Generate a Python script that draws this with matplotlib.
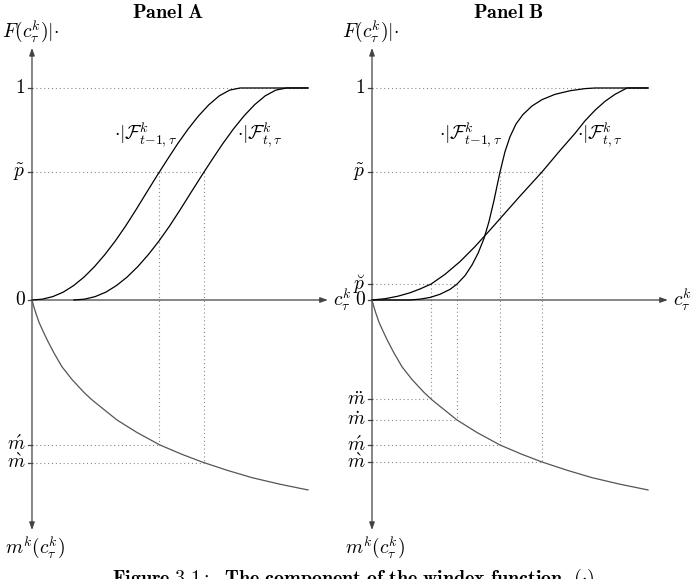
import matplotlib
matplotlib.use('Agg')
import matplotlib.pyplot as plt

plt.rcParams['mathtext.fontset'] = 'cm'

# valores: c en escala 0-100, F y m en la misma unidad
# Panel A
a_prev_c = [0.0, 3.77, 7.54, 11.31, 15.08, 18.85, 22.62, 26.39, 30.16, 33.93, 37.7,
            41.47, 45.24, 49.01, 52.78, 56.55, 60.32, 64.09, 67.86, 71.63, 75.4, 100.0]
a_prev_F = [0.0, 0.004, 0.016, 0.037, 0.068, 0.108, 0.157, 0.214, 0.278, 0.349, 0.426,
            0.506, 0.585, 0.662, 0.737, 0.806, 0.868, 0.921, 0.963, 0.990, 1.0, 1.0]
a_curr_c = [15.2, 19.05, 22.9, 26.75, 30.6, 34.45, 38.3, 42.15, 46.0, 49.85, 53.7,
            57.55, 61.4, 65.25, 69.1, 72.95, 76.8, 80.65, 84.5, 88.35, 92.2, 100.0]
a_curr_F = [0.0, 0.004, 0.016, 0.037, 0.068, 0.108, 0.157, 0.214, 0.278, 0.349, 0.426,
            0.506, 0.585, 0.662, 0.737, 0.806, 0.868, 0.921, 0.963, 0.990, 1.0, 1.0]

# Panel B
b_prev_c = [0.0, 13.77, 17.39, 21.01, 24.64, 28.26, 30.8, 33.7, 36.23, 38.41, 40.58, 42.39,
            44.2, 46.38, 48.19, 50.0, 52.17, 54.71, 57.97, 61.59, 66.3, 71.74, 77.17, 80.8, 100.0]
b_prev_F = [0.0, 0.0, 0.004, 0.012, 0.027, 0.05, 0.075, 0.115, 0.165, 0.22, 0.29, 0.37,
            0.47, 0.604, 0.70, 0.77, 0.83, 0.875, 0.915, 0.945, 0.97, 0.987, 0.997, 1.0, 1.0]
b_curr_c = [0.0, 4.71, 9.42, 13.77, 17.39, 21.38, 26.45, 31.88, 37.32, 42.75, 48.19, 53.62,
            61.59, 68.12, 73.55, 77.17, 80.8, 84.42, 88.04, 92.39, 100.0]
b_curr_F = [0.0, 0.006, 0.018, 0.034, 0.052, 0.075, 0.121, 0.181, 0.252, 0.33, 0.41, 0.49,
            0.604, 0.705, 0.786, 0.845, 0.895, 0.937, 0.97, 1.0, 1.0]

# curva m (igual en los dos paneles)
m_c = [0.0, 0.72, 1.45, 2.54, 3.99, 5.8, 7.97, 10.87, 14.49, 18.84, 21.38, 23.91, 30.8,
       38.04, 46.38, 54.35, 61.59, 70.65, 79.71, 89.86, 100.0]
m_v = [0.0, -0.034, -0.064, -0.105, -0.147, -0.196, -0.25, -0.315, -0.375, -0.436, -0.467,
       -0.494, -0.566, -0.625, -0.684, -0.728, -0.764, -0.803, -0.838, -0.869, -0.896]

# niveles de probabilidad y marcas
p_tilde = 0.604
p_breve = 0.075
a_marks_c = [46.1, 62.3]
a_marks_p = [p_tilde, p_tilde]
a_marks_m = [-0.683, -0.767]
a_marks_lab = [r'$\acute{m}$', r'$\grave{m}$']
b_marks_c = [21.38, 30.8, 46.38, 61.59]
b_marks_p = [p_breve, p_breve, p_tilde, p_tilde]
b_marks_m = [-0.467, -0.566, -0.684, -0.764]
b_marks_lab = [r'$\ddot{m}$', r'$\dot{m}$', r'$\acute{m}$', r'$\grave{m}$']

fs = 14
dot = dict(ls=(0, (1, 2.5)), lw=0.8, color='#8a8a8a', zorder=1)
axc = '#444444'

fig = plt.figure(figsize=(6.93, 5.79), dpi=100)
axA = fig.add_axes([0, 0, 346 / 693, 1])
axB = fig.add_axes([346 / 693, 0, 347 / 693, 1])
axA.set_xlim(-11.59, 113.77)
axB.set_xlim(-9.42, 116.3)


def tick(ax, y, lab):
    ax.plot([-1.4, 0], [y, y], color=axc, lw=0.9)
    ax.text(-2.3, y, lab, ha='right', va='center', fontsize=fs)


def panel(ax, title, prev_c, prev_F, curr_c, curr_F, levels, level_ends, level_labs,
          mk_c, mk_p, mk_m, mk_lab, lab_prev_x):
    ax.set_ylim(-1.316, 1.415)
    ax.axis('off')
    # ejes
    ax.annotate('', xy=(0, 1.189), xytext=(0, -1.085),
                arrowprops=dict(arrowstyle='<|-|>,head_length=0.45,head_width=0.16',
                                color=axc, lw=0.9, shrinkA=0, shrinkB=0))
    ax.annotate('', xy=(107.2, 0), xytext=(0, 0),
                arrowprops=dict(arrowstyle='-|>,head_length=0.45,head_width=0.16',
                                color=axc, lw=0.9, shrinkA=0, shrinkB=0))
    # lineas de nivel
    ax.plot([0, 100], [1, 1], **dot)
    tick(ax, 1, r'$1$')
    tick(ax, 0, r'$0$')
    for lv, end, lab in zip(levels, level_ends, level_labs):
        ax.plot([0, end], [lv, lv], **dot)
        tick(ax, lv, lab)
    for c, p, m, lab in zip(mk_c, mk_p, mk_m, mk_lab):
        ax.plot([c, c], [p, m], **dot)
        ax.plot([0, c], [m, m], **dot)
        tick(ax, m, lab)
    # curvas
    ax.plot(prev_c, prev_F, color='black', lw=0.9, zorder=3)
    ax.plot(curr_c, curr_F, color='black', lw=0.9, zorder=3)
    ax.plot(m_c, m_v, color='#555555', lw=0.9, zorder=3)
    # textos
    ax.text(49.3, 1.358, title, ha='center', va='center', fontsize=14.5)
    ax.text(-10.9, 1.264, r'$F(c^k_\tau)|{\cdot}$', ha='left', va='center', fontsize=fs)
    ax.text(-9.8, -1.17, r'$m^k(c^k_\tau)$', ha='left', va='center', fontsize=fs)
    ax.text(109.0, 0, r'$c^k_\tau$', ha='left', va='center', fontsize=fs)
    ax.text(lab_prev_x, 0.775, r'${\cdot}|\mathcal{F}^k_{t{-}1,\tau}$', ha='right', va='center', fontsize=fs)
    ax.text(74.3, 0.775, r'${\cdot}|\mathcal{F}^k_{t,\tau}$', ha='left', va='center', fontsize=fs)


panel(axA, r'$\mathbf{Panel\ A}$', a_prev_c, a_prev_F, a_curr_c, a_curr_F,
      [p_tilde], [62.3], [r'$\tilde{p}$'],
      a_marks_c, a_marks_p, a_marks_m, a_marks_lab, 52.5)
panel(axB, r'$\mathbf{Panel\ B}$', b_prev_c, b_prev_F, b_curr_c, b_curr_F,
      [p_tilde, p_breve], [61.59, 30.8], [r'$\tilde{p}$', r'$\breve{p}$'],
      b_marks_c, b_marks_p, b_marks_m, b_marks_lab, 47.1)

fig.text(0.51, 1 - 567 / 579,
         r'$\mathbf{Figure\ 3.1{:}\ \ The\ component\ of\ the\ windex\ function}\ \ ({\cdot})$',
         ha='center', va='top', fontsize=14.4)

fig.savefig('out.png', dpi=100)
